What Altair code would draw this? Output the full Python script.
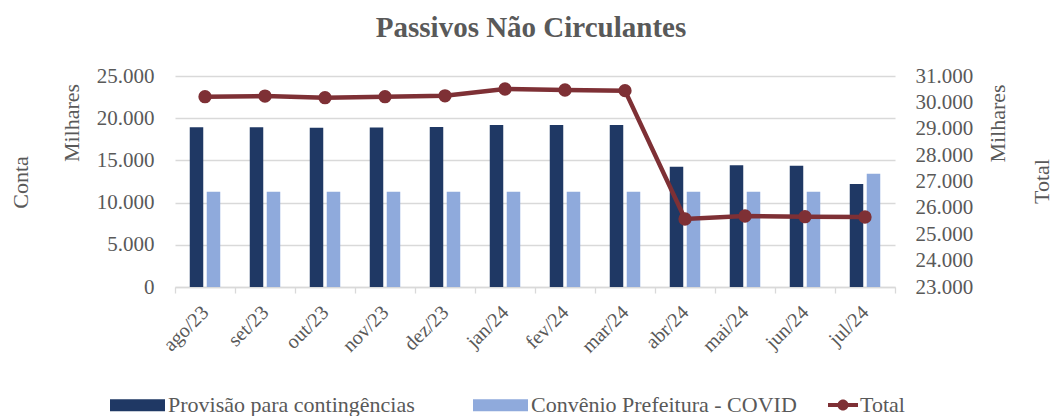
import altair as alt
import pandas as pd

months = ["ago/23", "set/23", "out/23", "nov/23", "dez/23", "jan/24",
          "fev/24", "mar/24", "abr/24", "mai/24", "jun/24", "jul/24"]
provisao = [18920, 18920, 18880, 18910, 18950, 19190, 19190, 19190, 14250, 14420, 14380, 12200]
convenio = [11290, 11290, 11290, 11290, 11290, 11290, 11290, 11290, 11290, 11290, 11290, 13420]
total = [30215, 30240, 30177, 30215, 30250, 30507, 30469, 30444, 25578, 25692, 25666, 25654]
series_names = ["Provisão para contingências", "Convênio Prefeitura - COVID"]
total_name = "Total"
left_ticks = [0, 5000, 10000, 15000, 20000, 25000]
right_ticks = [23000, 24000, 25000, 26000, 27000, 28000, 29000, 30000, 31000]
chart_title = "Passivos Não Circulantes"
unit_label = "Milhares"

FONT = "Liberation Serif"
GREY = "#595959"
GRID = "#d9d9d9"
DARK = "#1F3864"
LIGHT = "#8FAADC"
MAROON = "#7E3035"

bars_df = pd.DataFrame({
    "mes": months * 2,
    "serie": [series_names[0]] * len(months) + [series_names[1]] * len(months),
    "valor": provisao + convenio,
})
tot_df = pd.DataFrame({"mes": months, "total": total, "serie": [total_name] * len(months)})

label_expr = "replace(format(datum.value, ',.0f'), ',', '.')"

x_enc = alt.X("mes:N", sort=months,
              scale=alt.Scale(domain=months, paddingInner=0, paddingOuter=0),
              axis=alt.Axis(title=None, domainColor=GRID, domainWidth=1.3,
                            tickColor=GRID, tickWidth=1.3, tickSize=6, tickBand="extent",
                            labelAngle=315, labelAlign="right", labelBaseline="middle",
                            labelFont=FONT, labelFontSize=20, labelColor=GREY,
                            labelPadding=16, grid=False))

bars = alt.Chart(bars_df).mark_bar(size=13.5).encode(
    x=x_enc,
    xOffset=alt.XOffset("serie:N", sort=series_names,
                        scale=alt.Scale(domain=series_names, paddingInner=0, paddingOuter=0.765)),
    y=alt.Y("valor:Q",
            scale=alt.Scale(domain=[0, 25000], nice=False, zero=True),
            axis=alt.Axis(title="Conta", values=left_ticks, labelExpr=label_expr,
                          orient="left", domain=False, ticks=False, grid=True,
                          gridColor=GRID, gridWidth=1.3,
                          labelFont=FONT, labelFontSize=21, labelColor=GREY, labelPadding=21,
                          titleFont=FONT, titleFontSize=22, titleFontWeight="normal",
                          titleColor=GREY, titleAngle=270, titleX=-155, titleY=106,
                          titleBaseline="middle", titleAlign="center")),
    fill=alt.Fill("serie:N", sort=series_names,
                  scale=alt.Scale(domain=series_names, range=[DARK, LIGHT]),
                  legend=alt.Legend(title=None, orient="none", direction="horizontal",
                                    legendX=-65, legendY=301.5,
                                    symbolType="M-1,-0.22H1V0.22H-1Z", symbolSize=3025,
                                    symbolStrokeWidth=0, labelOffset=3, columnPadding=58,
                                    padding=0, labelFont=FONT, labelFontSize=22,
                                    labelColor=GREY, labelLimit=0)),
)

base = alt.Chart(tot_df).encode(
    x=x_enc,
    y=alt.Y("total:Q",
            scale=alt.Scale(domain=[23000, 31000], nice=False, zero=False),
            axis=alt.Axis(title="Total", values=right_ticks, labelExpr=label_expr,
                          orient="right", domain=False, ticks=False, grid=False,
                          labelFont=FONT, labelFontSize=21, labelColor=GREY, labelPadding=20,
                          titleFont=FONT, titleFontSize=22, titleFontWeight="normal",
                          titleColor=GREY, titleAngle=270, titleX=146, titleY=105,
                          titleBaseline="middle", titleAlign="center")),
)
line = base.mark_line(strokeWidth=4.5, color=MAROON)
dots = base.mark_circle(size=177, opacity=1).encode(
    color=alt.Color("serie:N",
                    scale=alt.Scale(domain=[total_name], range=[MAROON]),
                    legend=alt.Legend(title=None, orient="none", direction="horizontal",
                                      legendX=653, legendY=314,
                                      symbolType="M-1,-0.13H1V0.13H-1Z M0.37,0A0.37,0.37 0 1,1 -0.37,0A0.37,0.37 0 1,1 0.37,0Z",
                                      symbolSize=900, symbolStrokeWidth=0, symbolOpacity=1,
                                      labelOffset=2, padding=0, labelFont=FONT,
                                      labelFontSize=22, labelColor=GREY, labelLimit=0))
)
right_layer = alt.layer(line, dots)

unit_df = pd.DataFrame({"t": [unit_label]})
txt_left = alt.Chart(unit_df).mark_text(font=FONT, fontSize=22, color=GREY, angle=270,
                                        align="center", baseline="middle").encode(
    text="t:N", x=alt.value(-103), y=alt.value(47))
txt_right = alt.Chart(unit_df).mark_text(font=FONT, fontSize=22, color=GREY, angle=270,
                                         align="center", baseline="middle").encode(
    text="t:N", x=alt.value(823), y=alt.value(47.5))

title_df = pd.DataFrame({"t": [chart_title]})
title_txt = alt.Chart(title_df).mark_text(font=FONT, fontSize=29, fontWeight="bold",
                                          color=GREY, align="center",
                                          baseline="alphabetic").encode(
    text="t:N", x=alt.value(356), y=alt.value(-39))

chart = alt.layer(bars, right_layer, txt_left, txt_right, title_txt).resolve_scale(
    y="independent"
).properties(
    width=720, height=211,
    padding={"left": 167, "top": 68, "right": 155, "bottom": 129},
    autosize=alt.AutoSizeParams(type="none"),
).configure_view(stroke=None).configure_legend(
    labelFont=FONT, labelFontSize=22, labelColor=GREY, labelLimit=0
)

chart.save("out.html", embed_options={"renderer": "svg", "actions": False})
